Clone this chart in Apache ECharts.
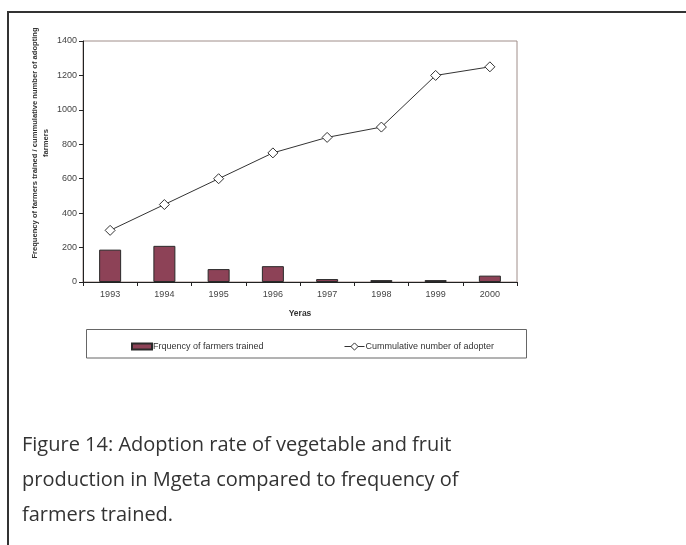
<!DOCTYPE html>
<html>
<head>
<meta charset="utf-8">
<script src="https://cdn.jsdelivr.net/npm/echarts@6/dist/echarts.min.js"></script>
<style>
html,body{margin:0;padding:0;background:#fff;}
#c{width:686px;height:545px;}
</style>
</head>
<body>
<div id="c"></div>
<script>
const years = ['1993','1994','1995','1996','1997','1998','1999','2000'];
const trained = [188, 210, 75, 92, 17, 11, 11, 37];
const cumulative = [300, 450, 600, 750, 840, 900, 1200, 1250];
const yTicks = {min: 0, max: 1400, interval: 200};

const chart = echarts.init(document.getElementById('c'), null, {renderer: 'canvas'});
const baseFont = 'Liberation Sans, Arial, sans-serif';
chart.setOption({
  animation: false,
  backgroundColor: '#fff',
  grid: {left: 83, top: 41, right: 169, bottom: 263, show: true, borderColor: '#a08e8a', borderWidth: 1, containLabel: false},
  xAxis: {
    type: 'category', data: years,
    axisLine: {lineStyle: {color: '#222', width: 1}},
    axisTick: {show: true, length: 4, lineStyle: {color: '#222'}},
    axisLabel: {color: '#444', fontSize: 9, fontFamily: baseFont, margin: 8},
    name: 'Yeras', nameLocation: 'middle', nameGap: 27,
    nameTextStyle: {color: '#333', fontSize: 8.5, fontWeight: 'bold', fontFamily: baseFont}
  },
  yAxis: {
    type: 'value', min: yTicks.min, max: yTicks.max, interval: yTicks.interval,
    axisLine: {show: true, lineStyle: {color: '#222', width: 1}},
    axisTick: {show: true, length: 4, lineStyle: {color: '#222'}},
    axisLabel: {color: '#444', fontSize: 9, fontFamily: baseFont, margin: 6, formatter: v => String(v)},
    splitLine: {show: false}
  },
  legend: [
    {
      data: [{name: 'Frquency of farmers trained'}],
      left: 126, top: 337, itemWidth: 20, itemHeight: 6, itemGap: 0,
      icon: 'rect',
      textStyle: {fontSize: 9, color: '#333', fontFamily: baseFont, padding: [0, 0, 0, -4]}
    },
    {
      data: [{name: 'Cummulative number of adopter'}],
      left: 339, top: 337, itemWidth: 20, itemHeight: 9, itemGap: 0,
      lineStyle: {width: 1, color: '#333'},
      itemStyle: {color: '#fff', borderColor: '#333', borderWidth: 1},
      textStyle: {fontSize: 9, color: '#333', fontFamily: baseFont, padding: [0, 0, 0, -4]}
    }
  ],
  series: [
    {
      name: 'Frquency of farmers trained', type: 'bar', data: trained,
      barWidth: 22,
      itemStyle: {color: '#8d4257', borderColor: '#2a2a2a', borderWidth: 1}
    },
    {
      name: 'Cummulative number of adopter', type: 'line', data: cumulative,
      symbol: 'diamond', symbolSize: 10,
      lineStyle: {color: '#333', width: 1},
      itemStyle: {color: '#fff', borderColor: '#333', borderWidth: 1}
    }
  ],
  graphic: [
    {type: 'rect', shape: {x: 8, y: 12, width: 720, height: 600}, style: {fill: 'none', stroke: '#333', lineWidth: 2}, z: 0},
    {type: 'rect', shape: {x: 86.5, y: 329.5, width: 440, height: 28.5}, style: {fill: 'none', stroke: '#666', lineWidth: 1}, z: 0},
    {type: 'text', x: 40, y: 143, rotation: Math.PI / 2,
      style: {text: 'Frequency of farmers trained / cummulative number of adopting\nfarmers', align: 'center', verticalAlign: 'middle',
        fill: '#333', font: 'bold 7.6px Liberation Sans, Arial, sans-serif', lineHeight: 11}},
    {type: 'text', x: 22, y: 428,
      style: {text: 'Figure 14: Adoption rate of vegetable and fruit\nproduction in Mgeta compared to frequency of\nfarmers trained.',
        fill: '#333', font: '20px "Comic Sans MS", "Open Sans", sans-serif', lineHeight: 35}}
  ]
});
</script>
</body>
</html>
